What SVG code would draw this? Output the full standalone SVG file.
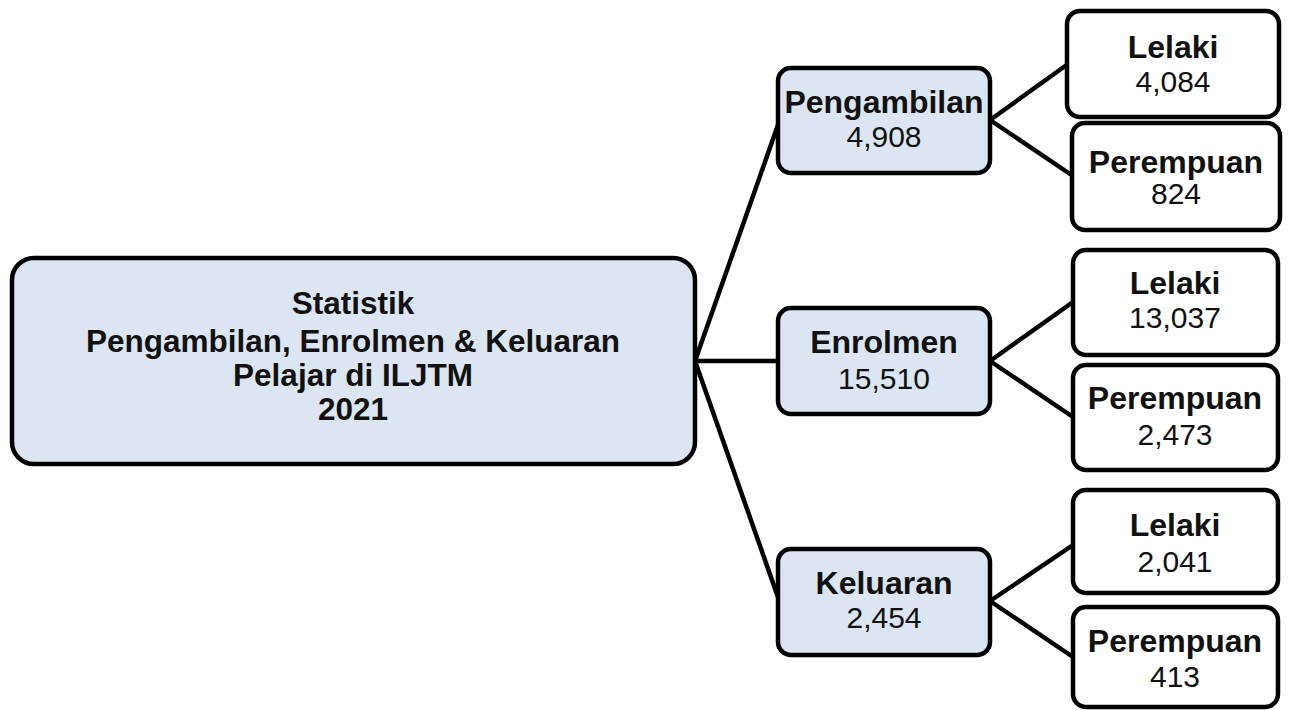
<svg xmlns="http://www.w3.org/2000/svg" width="1289" height="710" viewBox="0 0 1289 710">
<style>
.box{stroke:#000;stroke-width:4.5}
.blue{fill:#dce6f2}
.white{fill:#fff}
.t{font-family:"Liberation Sans",Arial,sans-serif;font-size:30px;fill:#111;text-anchor:middle}
.b{font-weight:bold;font-size:32px}
.m{font-size:31.5px}
.conn{stroke:#000;stroke-width:4.5;fill:none;stroke-linecap:round}
</style>
<rect width="1289" height="710" fill="#fff"/>
<g id="connectors">
<line class="conn" x1="695" y1="361" x2="779" y2="122"/>
<line class="conn" x1="695" y1="361" x2="779" y2="361"/>
<line class="conn" x1="695" y1="361" x2="779" y2="600"/>
<line class="conn" x1="990" y1="120" x2="1068" y2="64"/>
<line class="conn" x1="990" y1="120" x2="1073" y2="176"/>
<line class="conn" x1="990" y1="361" x2="1073" y2="302"/>
<line class="conn" x1="990" y1="361" x2="1073" y2="417"/>
<line class="conn" x1="990" y1="601" x2="1073" y2="545"/>
<line class="conn" x1="990" y1="601" x2="1073" y2="657"/>
</g>
<g id="main">
<rect class="box blue" x="12" y="258" width="683" height="206" rx="22"/>
<text class="t b m" x="353" y="314">Statistik</text>
<text class="t b m" x="353" y="352">Pengambilan, Enrolmen &amp; Keluaran</text>
<text class="t b m" x="353" y="386">Pelajar di ILJTM</text>
<text class="t b m" x="353" y="420">2021</text>
</g>
<g id="pengambilan">
<rect class="box blue" x="778" y="68" width="212" height="105" rx="13"/>
<text class="t b" x="884" y="113">Pengambilan</text>
<text class="t" x="884" y="147">4,908</text>
</g>
<g id="enrolmen">
<rect class="box blue" x="778" y="308" width="212" height="106" rx="13"/>
<text class="t b" x="884" y="353">Enrolmen</text>
<text class="t" x="884" y="389">15,510</text>
</g>
<g id="keluaran">
<rect class="box blue" x="778" y="549" width="212" height="106" rx="13"/>
<text class="t b" x="884" y="594">Keluaran</text>
<text class="t" x="884" y="628">2,454</text>
</g>
<g id="p-lelaki">
<rect class="box white" x="1067" y="11" width="212" height="106" rx="13"/>
<text class="t b" x="1173" y="58">Lelaki</text>
<text class="t" x="1173" y="92">4,084</text>
</g>
<g id="p-perempuan">
<rect class="box white" x="1072" y="123" width="208" height="107" rx="13"/>
<text class="t b" x="1176" y="173">Perempuan</text>
<text class="t" x="1176" y="204">824</text>
</g>
<g id="e-lelaki">
<rect class="box white" x="1073" y="250" width="205" height="105" rx="13"/>
<text class="t b" x="1175" y="294">Lelaki</text>
<text class="t" x="1175" y="328">13,037</text>
</g>
<g id="e-perempuan">
<rect class="box white" x="1073" y="365" width="205" height="105" rx="13"/>
<text class="t b" x="1175" y="409">Perempuan</text>
<text class="t" x="1175" y="445">2,473</text>
</g>
<g id="k-lelaki">
<rect class="box white" x="1073" y="490" width="205" height="103" rx="13"/>
<text class="t b" x="1175" y="536">Lelaki</text>
<text class="t" x="1175" y="572">2,041</text>
</g>
<g id="k-perempuan">
<rect class="box white" x="1073" y="607" width="205" height="100" rx="13"/>
<text class="t b" x="1175" y="652">Perempuan</text>
<text class="t" x="1175" y="687">413</text>
</g>
</svg>
